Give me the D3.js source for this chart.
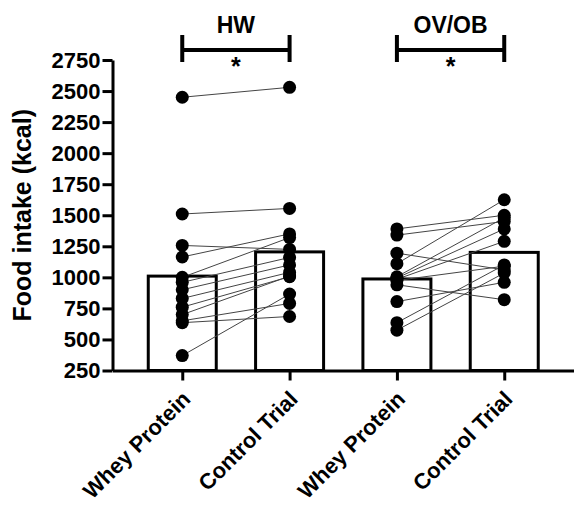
<!DOCTYPE html>
<html>
<head>
<meta charset="utf-8">
<script src="https://cdn.jsdelivr.net/npm/d3@7"></script>
<style>
  html, body { margin: 0; padding: 0; background: #fff; }
  svg text { font-family: "Liberation Sans", Arial, sans-serif; font-weight: bold; }
</style>
</head>
<body>
<svg id="chart" width="574" height="507"></svg>
<script>
// conditions on the x axis
const categories = ["HW-Whey", "HW-Control", "OB-Whey", "OB-Control"];
const tickLabels = ["Whey Protein", "Control Trial", "Whey Protein", "Control Trial"];
const groups = ["HW", "OV/OB"];

// bar heights (group means, kcal)
const barMeans = [1010, 1205, 987, 1201];

// paired participant values, same order in both arrays
const hwWhey = [2450, 1510, 1257, 1164, 1000, 960, 900, 830, 760, 700, 650, 635, 370];
const hwControl = [2530, 1555, 1225, 1350, 1320, 1160, 1100, 1040, 1005, 1010, 790, 685, 865];
const obWhey = [1390, 1340, 1195, 1110, 1005, 995, 985, 975, 940, 805, 635, 575];
const obControl = [1500, 1450, 1060, 1625, 1480, 1390, 1290, 1090, 820, 960, 1100, 1035];

const yTicks = [250, 500, 750, 1000, 1250, 1500, 1750, 2000, 2250, 2500, 2750];

const svg = d3.select("#chart");

const x = d3.scalePoint().domain(categories).range([112.5, 574]).padding(0.65);
const y = d3.scaleLinear().domain([250, 2750]).range([370.5, 60]);
const barW = 68;

// bars
svg.append("g").selectAll("rect")
    .data(barMeans)
    .join("rect")
    .attr("x", (d, i) => x(categories[i]) - barW / 2)
    .attr("y", d => y(d))
    .attr("width", barW)
    .attr("height", d => y(250) - y(d))
    .attr("fill", "#fff")
    .attr("stroke", "#000")
    .attr("stroke-width", 3);

// pairs -> connecting lines and dots
const pairs = [];
hwWhey.forEach((v, i) => pairs.push({a: categories[0], b: categories[1], va: v, vb: hwControl[i]}));
obWhey.forEach((v, i) => pairs.push({a: categories[2], b: categories[3], va: v, vb: obControl[i]}));

svg.append("g").selectAll("line")
    .data(pairs)
    .join("line")
    .attr("x1", d => x(d.a)).attr("y1", d => y(d.va))
    .attr("x2", d => x(d.b)).attr("y2", d => y(d.vb))
    .attr("stroke", "#444")
    .attr("stroke-width", 1);

const dots = [];
pairs.forEach(p => {
    dots.push({c: p.a, v: p.va});
    dots.push({c: p.b, v: p.vb});
});
svg.append("g").selectAll("circle")
    .data(dots)
    .join("circle")
    .attr("cx", d => x(d.c))
    .attr("cy", d => y(d.v))
    .attr("r", 6.5)
    .attr("fill", "#000");

// y axis
const yAxis = svg.append("g")
    .attr("transform", "translate(112.5,0)")
    .call(d3.axisLeft(y).tickValues(yTicks).tickFormat(d3.format("d"))
        .tickSize(10).tickSizeOuter(0).tickPadding(2));
yAxis.select(".domain").attr("stroke-width", 3);
yAxis.selectAll(".tick line").attr("stroke-width", 3);
yAxis.selectAll(".tick text")
    .attr("font-size", 22)
    .attr("fill", "#000");

// x axis
const xAxis = svg.append("g")
    .attr("transform", "translate(0,370.5)")
    .call(d3.axisBottom(x).tickSize(10).tickSizeOuter(0).tickFormat((d, i) => tickLabels[i]));
xAxis.select(".domain").attr("stroke-width", 3);
xAxis.selectAll(".tick line").attr("stroke-width", 3);
xAxis.selectAll(".tick text")
    .attr("font-size", 22)
    .attr("fill", "#000")
    .attr("text-anchor", "end")
    .attr("dy", null)
    .attr("y", 0)
    .attr("transform", "translate(9,30) rotate(-45)");

// y title
svg.append("text")
    .attr("transform", `translate(31,${(y(250) + y(2750)) / 2}) rotate(-90)`)
    .attr("text-anchor", "middle")
    .attr("font-size", 25)
    .attr("fill", "#000")
    .text("Food intake (kcal)");

// significance brackets
const brackets = [
    {name: groups[0], from: categories[0], to: categories[1]},
    {name: groups[1], from: categories[2], to: categories[3]}
];
const bg = svg.append("g").selectAll("g").data(brackets).join("g");
bg.append("path")
    .attr("d", d => `M${x(d.from)},35V62M${x(d.from)},50H${x(d.to)}M${x(d.to)},35V62`)
    .attr("fill", "none")
    .attr("stroke", "#000")
    .attr("stroke-width", 4);
bg.append("text")
    .attr("x", d => (x(d.from) + x(d.to)) / 2)
    .attr("y", 33)
    .attr("text-anchor", "middle")
    .attr("font-size", 23)
    .attr("fill", "#000")
    .text(d => d.name);
bg.append("text")
    .attr("x", d => (x(d.from) + x(d.to)) / 2)
    .attr("y", 75)
    .attr("text-anchor", "middle")
    .attr("font-size", 25)
    .attr("fill", "#000")
    .text("*");
</script>
</body>
</html>
